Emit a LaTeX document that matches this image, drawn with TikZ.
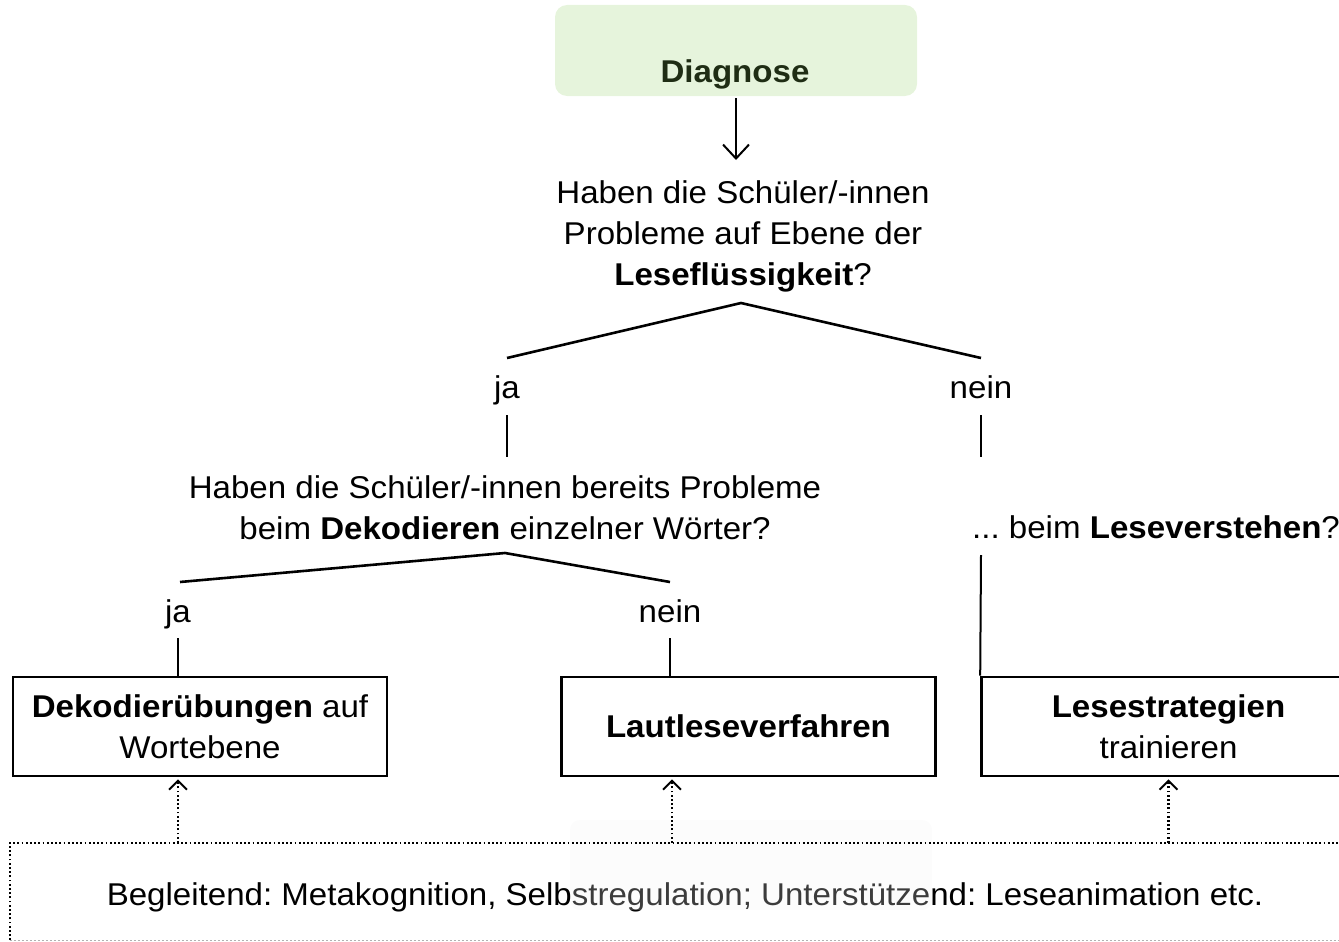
\documentclass[tikz,border=0pt]{standalone}
\usepackage{fontspec}
\setmainfont[FakeStretch=1.05]{Liberation Sans}
\usetikzlibrary{arrows.meta}
\definecolor{diagfill}{HTML}{E6F4DC}
\definecolor{diagtext}{HTML}{1F2D14}
\frenchspacing
\begin{document}
\begin{tikzpicture}[x=1pt,y=-1pt,
  font=\fontsize{31.5}{41}\selectfont,
  txt/.style={inner sep=0pt, align=center},
  tree/.style={line width=2.6pt},
  boxstyle/.style={draw, line width=2.6pt, minimum width=374pt, minimum height=99pt, inner sep=0pt, align=center},
  arr/.style={line width=2pt, -{Straight Barb[length=14pt,width=26pt,line width=2pt]}},
  dotarr/.style={line width=2.4pt, dash pattern=on 1.8pt off 2.4pt, -{Straight Barb[length=9pt,width=18pt,line width=2pt]}},
  dotline/.style={line width=2.2pt, dash pattern=on 1.8pt off 2.4pt}
]
\useasboundingbox (0,0) rectangle (1339,942);
\clip (0,0) rectangle (1339,942);

% Diagnose
\node[fill=diagfill, rounded corners=12pt, minimum width=362pt, minimum height=91pt, inner sep=0pt] (d) at (736,50.5) {};
\node[txt, anchor=base, text=diagtext, font=\fontsize{31.5}{36}\selectfont\bfseries] (dt) at (735,82) {Diagnose};

% question 1
\node[txt] (q1) at (743,236) {Haben die Schüler/-innen\\Probleme auf Ebene der\\\textbf{Leseflüssigkeit}?};
\coordinate (a1) at (736,160);
\draw[arr] (d.south) ++(0,2) -- (a1);

\coordinate (t1) at (741,303);
\coordinate (t1l) at (507,358);
\coordinate (t1r) at (981,358);
\draw[tree] (t1l) -- (t1) -- (t1r);

\node[txt, anchor=base] (ja1) at (507,398) {ja};
\node[txt, anchor=base] (nein1) at (981,398) {nein};
\coordinate (v1a) at (507,415); \coordinate (v1b) at (507,457);
\coordinate (v2a) at (981,415); \coordinate (v2b) at (981,457);
\draw[line width=2pt] (v1a) -- (v1b);
\draw[line width=2pt] (v2a) -- (v2b);

% question 2
\node[txt] (q2) at (505,507.5) {Haben die Schüler/-innen bereits Probleme\\beim \textbf{Dekodieren} einzelner Wörter?};
\node[txt, anchor=base west] (q3) at (972,538) {... beim \textbf{Leseverstehen}?};

\coordinate (t2) at (505,553);
\coordinate (t2l) at (180,582);
\coordinate (t2r) at (670,582);
\draw[tree] (t2l) -- (t2) -- (t2r);

\node[txt, anchor=base] (ja2) at (178,622) {ja};
\node[txt, anchor=base] (nein2) at (670,622) {nein};

% boxes
\node[boxstyle] (b1) at (200,726.5) {\textbf{Dekodierübungen} auf\\Wortebene};
\node[boxstyle] (b2) at (748.5,726.5) {\textbf{Lautleseverfahren}};
\node[boxstyle] (b3) at (1168.5,726.5) {\textbf{Lesestrategien}\\trainieren};

\coordinate (v3a) at (178,638);
\coordinate (v4a) at (670,638);
\coordinate (v5a) at (981,555);
\draw[line width=2pt] (v3a) -- (b1.north -| v3a);
\draw[line width=2pt] (v4a) -- (b2.north -| v4a);
\draw[line width=2pt] (v5a) -- (b3.north west);

% bottom box
\node[inner sep=0pt, minimum width=1340pt, minimum height=97pt] (bg) at (680,891.5) {};
\node[txt] (bt) at (685,897.5) {Begleitend: Metakognition, Selbstregulation; Unterstützend: Leseanimation etc.};
\fill[gray!10, fill opacity=0.25, rounded corners=10pt] (570,820) rectangle (932,910);
\draw[dotline] (bg.south west) -- (bg.north west) -- (bg.north east);
\draw[line width=1pt, gray!60, dash pattern=on 2pt off 2pt] (bg.south west) -- (bg.south east);

\coordinate (x1) at (178,0);
\coordinate (x2) at (672,0);
\draw[dotarr] (bg.north -| x1) -- ([yshift=-2pt]b1.south -| x1);
\draw[dotarr] (bg.north -| x2) -- ([yshift=-2pt]b2.south -| x2);
\draw[dotarr] (bg.north -| b3.south) -- ([yshift=-2pt]b3.south);
\end{tikzpicture}
\end{document}
